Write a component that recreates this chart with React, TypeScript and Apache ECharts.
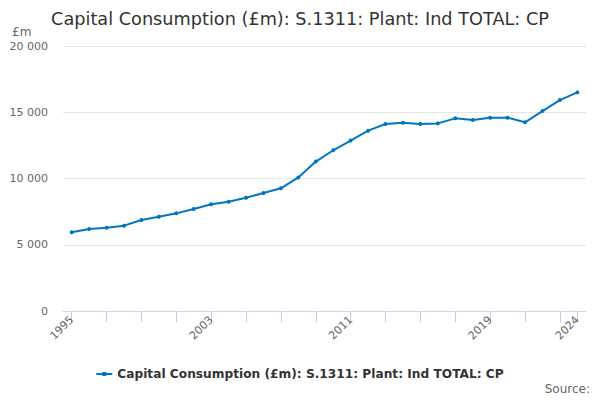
import { useEffect, useRef } from 'react'
import * as echarts from 'echarts'

const years = [
  '1995', '1996', '1997', '1998', '1999', '2000', '2001', '2002', '2003', '2004',
  '2005', '2006', '2007', '2008', '2009', '2010', '2011', '2012', '2013', '2014',
  '2015', '2016', '2017', '2018', '2019', '2020', '2021', '2022', '2023', '2024',
]

const values = [
  5950, 6190, 6290, 6440, 6870, 7120, 7370, 7700, 8050, 8250,
  8550, 8900, 9260, 10080, 11280, 12130, 12860, 13610, 14110, 14200,
  14110, 14160, 14540, 14420, 14590, 14590, 14240, 15090, 15920, 16500,
]

const seriesName = 'Capital Consumption (£m): S.1311: Plant: Ind TOTAL: CP'
const font = 'DejaVu Sans'

export default function App() {
  const chartRef = useRef<HTMLDivElement>(null)

  useEffect(() => {
    document.body.style.margin = '0'
    document.body.style.overflow = 'hidden'
    if (!chartRef.current) return
    const chart = echarts.init(chartRef.current, null, { renderer: 'svg' })
    const last = years.length - 1

    chart.setOption({
      animation: false,
      backgroundColor: '#fff',
      textStyle: { fontFamily: font },
      title: {
        text: seriesName,
        left: 'center',
        top: 5,
        textStyle: { fontFamily: font, fontSize: 17.7, fontWeight: 'normal', color: '#333' },
      },
      graphic: [
        { type: 'text', left: 12, top: 26, style: { text: '£m', font: `12px "${font}"`, fill: '#666' } },
        { type: 'text', right: 10, top: 383, style: { text: 'Source:', font: `12px "${font}"`, fill: '#666' } },
      ],
      legend: {
        bottom: 15,
        left: 'center',
        itemWidth: 16,
        itemHeight: 8,
        textStyle: { fontFamily: font, fontSize: 12.2, fontWeight: 'bold', color: '#333' },
        data: [{ name: seriesName, icon: 'path://M0,3 L16,3 L16,5 L0,5 Z M6,2 L10,2 L10,6 L6,6 Z' }],
      },
      grid: { left: 63, right: 14, top: 46, bottom: 89 },
      xAxis: {
        type: 'category',
        data: years,
        boundaryGap: true,
        axisLine: { lineStyle: { color: '#ccd6eb' } },
        axisTick: {
          show: true,
          alignWithLabel: true,
          length: 11,
          lineStyle: { color: '#c2cde3', width: 1 },
          interval: (i: number) => i % 2 === 0 || i === last,
        },
        axisLabel: {
          rotate: 45,
          color: '#666',
          fontSize: 11,
          margin: 7,
          interval: (i: number) => i % 8 === 0 || i === last,
        },
      },
      yAxis: {
        type: 'value',
        min: 0,
        max: 20000,
        interval: 5000,
        axisLine: { show: false },
        axisTick: { show: false },
        splitLine: { lineStyle: { color: '#e6e6e6' } },
        axisLabel: {
          color: '#666',
          fontSize: 11,
          margin: 15,
          formatter: (v: number) => String(v).replace(/\B(?=(\d{3})+(?!\d))/g, ' '),
        },
      },
      series: [
        {
          name: seriesName,
          type: 'line',
          data: values,
          color: '#0076c0',
          symbol: 'circle',
          symbolSize: 4,
          lineStyle: { width: 2, color: '#0076c0' },
          itemStyle: { color: '#0076c0' },
        },
      ],
    })

    return () => {
      chart.dispose()
    }
  }, [])

  return <div ref={chartRef} style={{ width: 600, height: 400 }} />
}
